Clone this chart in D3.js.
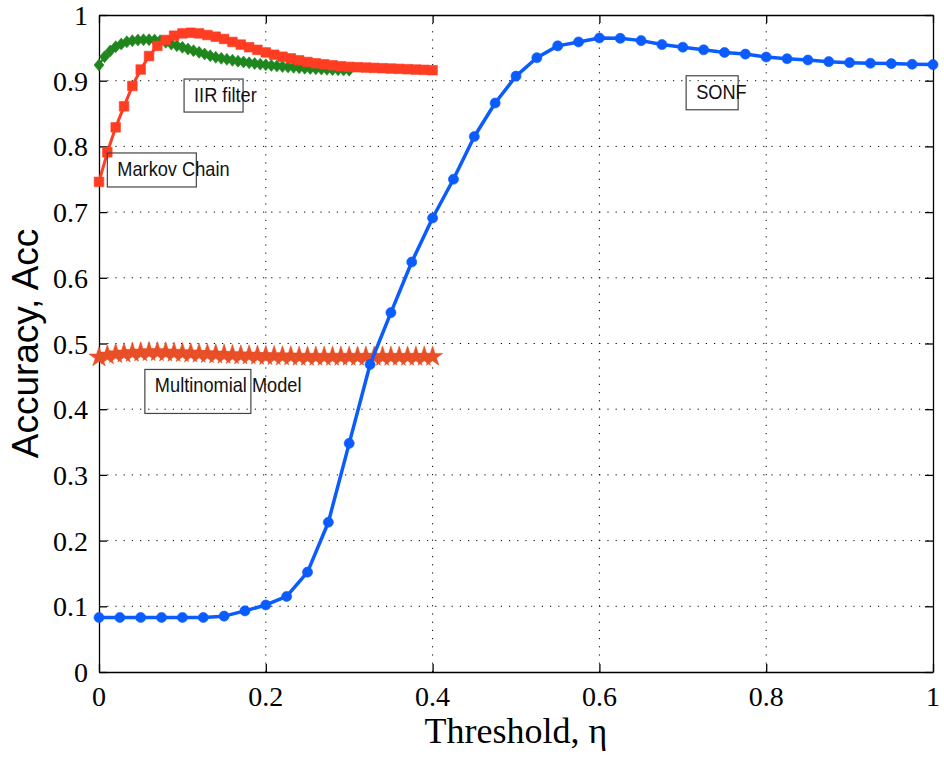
<!DOCTYPE html>
<html>
<head>
<meta charset="utf-8">
<script src="https://cdn.jsdelivr.net/npm/d3@7"></script>
<style>
    html, body { margin: 0; padding: 0; background: #fff; }
    svg { display: block; }
</style>
</head>
<body>
<div id="chart"></div>
<script>
'use strict';

/* data */
const xTicks = [0, 0.2, 0.4, 0.6, 0.8, 1];
const yTicks = [0, 0.1, 0.2, 0.3, 0.4, 0.5, 0.6, 0.7, 0.8, 0.9, 1];
const xTickLabels = ["0", "0.2", "0.4", "0.6", "0.8", "1"];
const yTickLabels = ["0", "0.1", "0.2", "0.3", "0.4", "0.5", "0.6", "0.7", "0.8", "0.9", "1"];

// SONF sampled every 0.025 from 0 to 1
const sonfStep = 0.025;
const sonfAcc = [
    0.083, 0.083, 0.083, 0.083, 0.083, 0.083, 0.085, 0.093, 0.102, 0.115,
    0.152, 0.228, 0.348, 0.468, 0.547, 0.624, 0.691, 0.750, 0.815, 0.866,
    0.907, 0.935, 0.953, 0.959, 0.965, 0.9645, 0.961, 0.955, 0.951, 0.947,
    0.943, 0.9405, 0.936, 0.9335, 0.9315, 0.929, 0.9275, 0.9265, 0.926, 0.925,
    0.9245
];

// Markov chain sampled every 0.01 from 0 to 0.4
const markovStep = 0.01;
const markovAcc = [
    0.746, 0.791, 0.829, 0.861, 0.892, 0.917, 0.9375, 0.953, 0.962, 0.9685,
    0.972, 0.973, 0.972, 0.9695, 0.967, 0.9635, 0.959, 0.955, 0.951, 0.947,
    0.943, 0.9395, 0.9365, 0.934, 0.931, 0.9285, 0.9265, 0.925, 0.9235, 0.922,
    0.921, 0.9205, 0.92, 0.9195, 0.919, 0.9185, 0.918, 0.9175, 0.917, 0.9165,
    0.916
];

// IIR filter sampled every 1/150 from 0 to 0.3
const iirStep = 1 / 150;
const iirAcc = [
    0.9238, 0.9365, 0.9452, 0.9517, 0.9558, 0.9593, 0.9609, 0.962, 0.9624, 0.9624,
    0.962, 0.9609, 0.9584, 0.9558, 0.9533, 0.9508, 0.9482, 0.9457, 0.9432, 0.9406,
    0.938, 0.9356, 0.934, 0.9325, 0.931, 0.9297, 0.9285, 0.9273, 0.9262, 0.9252,
    0.9242, 0.9233, 0.9225, 0.9217, 0.921, 0.9203, 0.9197, 0.9191, 0.9186, 0.9181,
    0.9177, 0.9173, 0.9169, 0.9166, 0.9163, 0.916
];

// Multinomial model sampled every 0.01 from 0 to 0.4
const multiStep = 0.01;
const multiAcc = [
    0.479, 0.482, 0.484, 0.485, 0.486, 0.4865, 0.487, 0.487, 0.4865, 0.486,
    0.4855, 0.485, 0.4845, 0.484, 0.4835, 0.483, 0.4825, 0.482, 0.482, 0.4815,
    0.481, 0.481, 0.4805, 0.4805, 0.480, 0.480, 0.480, 0.480, 0.480, 0.480,
    0.480, 0.480, 0.480, 0.480, 0.480, 0.480, 0.480, 0.480, 0.480, 0.480,
    0.480
];

// text annotations: anchor (top-left of box) in data units
const annotations = [
    { text: "IIR filter", x: 0.102, y: 0.9025, w: 59, h: 33 },
    { text: "Markov Chain", x: 0.010, y: 0.790, w: 89, h: 34 },
    { text: "Multinomial Model", x: 0.055, y: 0.4605, w: 106, h: 44 },
    { text: "SONF", x: 0.704, y: 0.9075, w: 52, h: 34 }
];

const width = 944, height = 758;
const margin = { left: 99, right: 11, top: 15, bottom: 86 };

const svg = d3.select("#chart").append("svg")
    .attr("width", width)
    .attr("height", height);

const x = d3.scaleLinear().domain([0, 1]).range([margin.left, width - margin.right]);
const y = d3.scaleLinear().domain([0, 1]).range([height - margin.bottom, margin.top]);

const toPoints = (values, step) => values.map((v, i) => ({ t: i * step, acc: v }));

/* grid */
let grid = svg.append("g").attr("class", "grid");
grid.selectAll("line.gx")
    .data(xTicks.slice(1, -1))
    .enter().append("line")
    .attr("x1", d => x(d)).attr("x2", d => x(d))
    .attr("y1", y(0)).attr("y2", y(1))
    .attr("stroke", "#000")
    .attr("stroke-width", 1)
    .attr("stroke-dasharray", "1.2,7");
grid.selectAll("line.gy")
    .data(yTicks.slice(1, -1))
    .enter().append("line")
    .attr("y1", d => y(d)).attr("y2", d => y(d))
    .attr("x1", x(0)).attr("x2", x(1))
    .attr("stroke", "#000")
    .attr("stroke-width", 1)
    .attr("stroke-dasharray", "1.2,7");

/* axes (ticks point inward, box on all sides) */
const tickLen = 8;
svg.append("g")
    .attr("transform", `translate(0,${y(0)})`)
    .call(d3.axisBottom(x).tickValues(xTicks).tickSizeInner(-tickLen).tickSizeOuter(0).tickFormat(""));
svg.append("g")
    .attr("transform", `translate(0,${y(1)})`)
    .call(d3.axisTop(x).tickValues(xTicks).tickSizeInner(-tickLen).tickSizeOuter(0).tickFormat(""));
svg.append("g")
    .attr("transform", `translate(${x(0)},0)`)
    .call(d3.axisLeft(y).tickValues(yTicks).tickSizeInner(-tickLen).tickSizeOuter(0).tickFormat(""));
svg.append("g")
    .attr("transform", `translate(${x(1)},0)`)
    .call(d3.axisRight(y).tickValues(yTicks).tickSizeInner(-tickLen).tickSizeOuter(0).tickFormat(""));
svg.selectAll(".domain, .tick line").attr("stroke", "#000").attr("stroke-width", 1.3);

// tick labels in serif like the original
svg.append("g").selectAll("text")
    .data(xTicks)
    .enter().append("text")
    .attr("x", d => x(d))
    .attr("y", y(0) + 34)
    .attr("text-anchor", "middle")
    .style("font-family", "'Liberation Serif', 'Times New Roman', serif")
    .style("font-size", "28px")
    .text((d, i) => xTickLabels[i]);
svg.append("g").selectAll("text")
    .data(yTicks)
    .enter().append("text")
    .attr("x", x(0) - 11)
    .attr("y", d => y(d) + 10)
    .attr("text-anchor", "end")
    .style("font-family", "'Liberation Serif', 'Times New Roman', serif")
    .style("font-size", "28px")
    .text((d, i) => yTickLabels[i]);

svg.append("text")
    .attr("x", (x(0) + x(1)) / 2)
    .attr("y", 743)
    .attr("text-anchor", "middle")
    .style("font-family", "'Liberation Serif', 'Times New Roman', serif")
    .style("font-size", "36px")
    .text("Threshold, \u03B7");

svg.append("text")
    .attr("transform", `translate(38,${(y(0) + y(1)) / 2}) rotate(-90)`)
    .attr("text-anchor", "middle")
    .style("font-family", "'Liberation Sans', Arial, sans-serif")
    .style("font-size", "37px")
    .text("Accuracy, Acc");

/* series */
const line = d3.line().x(d => x(d.t)).y(d => y(d.acc));

function drawSeries(points, color, lineWidth, markerPath) {
    let g = svg.append("g");
    g.append("path")
        .datum(points)
        .attr("d", line)
        .attr("fill", "none")
        .attr("stroke", color)
        .attr("stroke-width", lineWidth)
        .attr("stroke-linejoin", "round");
    g.selectAll("path.marker")
        .data(points)
        .enter().append("path")
        .attr("class", "marker")
        .attr("transform", d => `translate(${x(d.t)},${y(d.acc)})`)
        .attr("d", markerPath)
        .attr("fill", color)
        .attr("stroke", color)
        .attr("stroke-width", 0.6);
}

const starPath = d3.symbol().type(d3.symbolStar).size(125)();
const squarePath = "M-4.8,-4.8H4.8V4.8H-4.8Z";
const diamondPath = "M0,-6L5,0L0,6L-5,0Z";
const circlePath = d3.symbol().type(d3.symbolCircle).size(80)();

drawSeries(toPoints(multiAcc, multiStep), "#e84f27", 2, starPath);
drawSeries(toPoints(iirAcc, iirStep), "#1f861d", 2, diamondPath);
drawSeries(toPoints(markovAcc, markovStep), "#ff3d22", 3, squarePath);
drawSeries(toPoints(sonfAcc, sonfStep), "#0a5cff", 3.5, circlePath);

/* annotation boxes */
let notes = svg.append("g").selectAll("g")
    .data(annotations)
    .enter().append("g")
    .attr("transform", d => `translate(${x(d.x)},${y(d.y)})`);
notes.append("rect")
    .attr("width", d => d.w)
    .attr("height", d => d.h)
    .attr("fill", "none")
    .attr("stroke", "#444")
    .attr("stroke-width", 1.2);
notes.append("text")
    .attr("transform", "translate(10,23) scale(0.91,1)")
    .style("font-family", "'Liberation Sans', Arial, sans-serif")
    .style("font-size", "20px")
    .attr("fill", "#111")
    .text(d => d.text);
</script>
</body>
</html>
